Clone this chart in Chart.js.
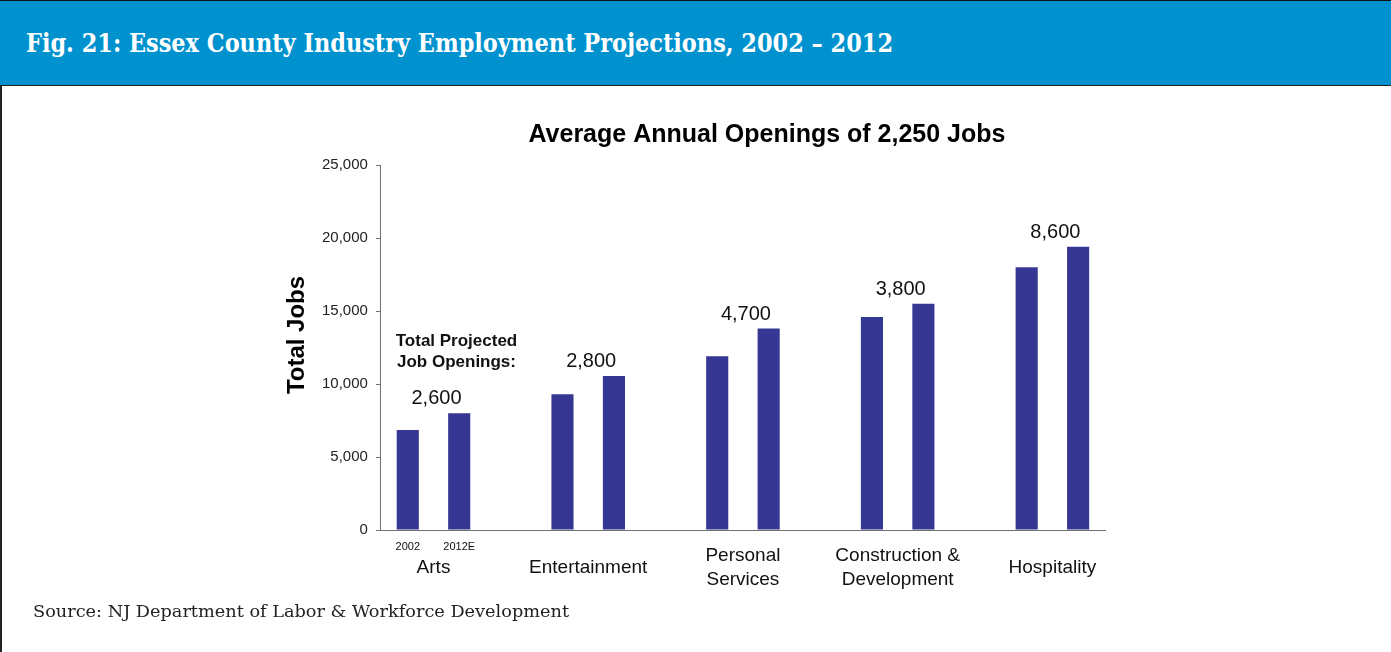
<!DOCTYPE html>
<html>
<head>
<meta charset="utf-8">
<script src="https://cdn.jsdelivr.net/npm/chart.js@4.4.1/dist/chart.umd.min.js"></script>
<style>
  body { margin: 0; width: 1391px; height: 652px; overflow: hidden; background: #fff; position: relative; }
  #frame { position: absolute; left: 0; top: 0; width: 1391px; height: 652px; border-left: 2px solid #222; box-sizing: border-box; }
  #head { position: absolute; left: 0; top: 0; width: 1391px; height: 86px; background: #0092ce; border-top: 1px solid #111; border-bottom: 1px solid #222; box-sizing: border-box; }
  #head h1 { position: absolute; left: 26px; top: 27px; margin: 0; color: #fff; font: bold 26px "DejaVu Serif Condensed", "DejaVu Serif", serif; white-space: nowrap; transform-origin: 0 50%; }
  #source { position: absolute; left: 33px; top: 602px; margin: 0; color: #222; font: 16px "DejaVu Serif Condensed", "DejaVu Serif", serif; white-space: nowrap; transform-origin: 0 50%; }
  #box { position: absolute; left: 0; top: 86px; width: 1391px; height: 566px; }
</style>
</head>
<body>
<div id="frame"></div>
<div id="head"><h1 id="figTitle">Fig. 21: Essex County Industry Employment Projections, 2002 – 2012</h1></div>
<div id="box"><canvas id="jobsChart"></canvas></div>
<p id="source">Source: NJ Department of Labor &amp; Workforce Development</p>
<script>
// industries on the x axis (multi-line where the label wraps)
const industries = [['Arts'], ['Entertainment'], ['Personal', 'Services'], ['Construction &', 'Development'], ['Hospitality']];
const years = ['2002', '2012E'];
const jobs2002 = [6850, 9300, 11900, 14600, 18000];
const jobs2012 = [8000, 10550, 13800, 15500, 19400];
// total projected job openings per industry, printed over each pair
const openings = [2600, 2800, 4700, 3800, 8600];
const yTicks = [0, 5000, 10000, 15000, 20000, 25000];
const chartTitle = 'Average Annual Openings of 2,250 Jobs';
const yTitle = 'Total Jobs';
const noteLines = ['Total Projected', 'Job Openings:'];

const barColor = '#363792';
const axisColor = '#707070';
const sans = '"Liberation Sans", Arial, sans-serif';

// squeeze the serif header texts to their box widths
function fitWidth(id, w) {
  const el = document.getElementById(id);
  el.style.transform = 'scaleX(' + (w / el.getBoundingClientRect().width) + ')';
}
fitWidth('figTitle', 867);
fitWidth('source', 536);

const fmt = v => v.toLocaleString('en-US');

const labelsPlugin = {
  id: 'jobLabels',
  afterDatasetsDraw(chart) {
    const ctx = chart.ctx;
    const area = chart.chartArea;
    const m0 = chart.getDatasetMeta(0).data;
    const m1 = chart.getDatasetMeta(1).data;
    ctx.save();
    ctx.fillStyle = '#000';
    ctx.textAlign = 'center';

    ctx.font = 'bold 25px ' + sans;
    ctx.textBaseline = 'alphabetic';
    ctx.fillText(chartTitle, (area.left + area.right) / 2 + 24, area.top - 23);

    // openings over each group
    ctx.font = '20px ' + sans;
    ctx.fillStyle = '#111';
    openings.forEach((v, i) => {
      const x = (m0[i].x + m1[i].x) / 2 + 3;
      const y = Math.min(m0[i].y, m1[i].y) - 9;
      ctx.fillText(fmt(v), x, y);
    });

    // note above the first group
    ctx.font = 'bold 17px ' + sans;
    ctx.textBaseline = 'middle';
    const nx = (m0[0].x + m1[0].x) / 2 + 23;
    const ny = m1[0].y;
    ctx.fillText(noteLines[0], nx, ny - 72);
    ctx.fillText(noteLines[1], nx, ny - 51);

    // year keys under the first group
    ctx.font = '11px ' + sans;
    ctx.fillText(years[0], m0[0].x, area.bottom + 17);
    ctx.fillText(years[1], m1[0].x, area.bottom + 17);

    // vertical axis title
    ctx.fillStyle = '#000';
    ctx.font = 'bold 24px ' + sans;
    ctx.translate(area.left - 84, area.top + 170);
    ctx.rotate(-Math.PI / 2);
    ctx.fillText(yTitle, 0, 0);
    ctx.restore();
  }
};

new Chart(document.getElementById('jobsChart'), {
  type: 'bar',
  data: {
    datasets: [
      { label: years[0], data: jobs2002.map((v, i) => ({ x: i, y: v })), backgroundColor: barColor },
      { label: years[1], data: jobs2012.map((v, i) => ({ x: i, y: v })), backgroundColor: barColor }
    ]
  },
  options: {
    responsive: true,
    maintainAspectRatio: false,
    animation: false,
    categoryPercentage: 0.665,
    barPercentage: 0.43,
    layout: { padding: { left: 314, right: 286, top: 79, bottom: 30 } },
    plugins: {
      legend: { display: false },
      tooltip: { enabled: false }
    },
    scales: {
      x: {
        type: 'linear',
        offset: false,
        min: -0.34,
        max: 4.34,
        afterBuildTicks: scale => { scale.ticks = industries.map((c, i) => ({ value: i })); },
        grid: { display: false },
        border: { color: axisColor, width: 1 },
        ticks: {
          autoSkip: false,
          maxRotation: 0,
          crossAlign: 'center',
          padding: 18,
          color: '#111',
          font: { family: sans, size: 19, lineHeight: 1.26 },
          callback: v => industries[v]
        }
      },
      y: {
        min: 0,
        max: 25000,
        afterBuildTicks: scale => { scale.ticks = yTicks.map(v => ({ value: v })); },
        grid: { drawOnChartArea: false, tickLength: 5, color: axisColor },
        border: { color: axisColor, width: 1 },
        ticks: {
          padding: 8,
          color: '#222',
          font: { family: sans, size: 15 },
          callback: v => fmt(v)
        }
      }
    }
  },
  plugins: [labelsPlugin]
});
</script>
</body>
</html>
